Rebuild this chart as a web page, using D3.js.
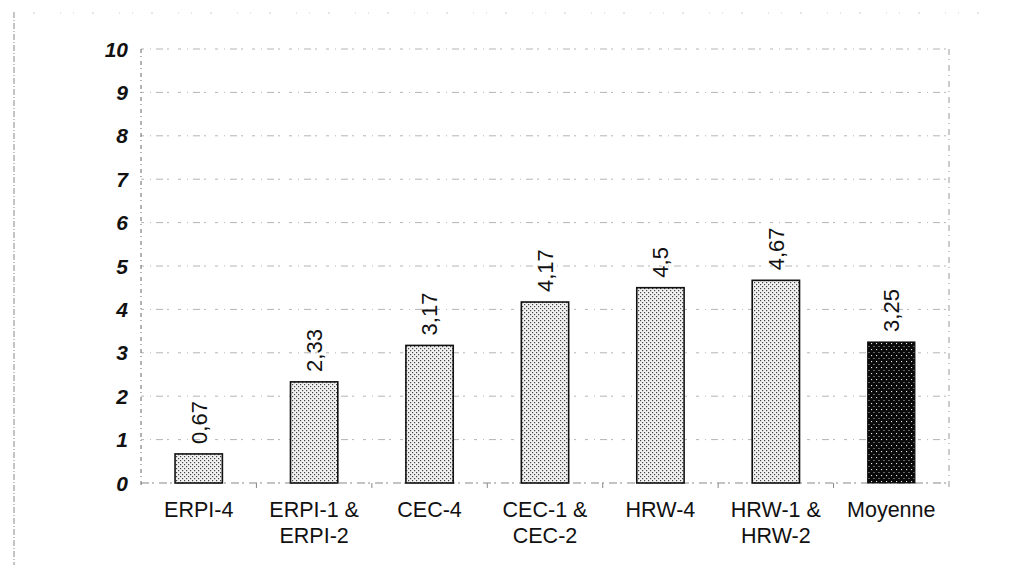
<!DOCTYPE html>
<html>
<head>
<meta charset="utf-8">
<script src="https://cdn.jsdelivr.net/npm/d3@7"></script>
<style>
  html, body { margin: 0; padding: 0; background: #fff; }
  svg { display: block; font-family: Arial, "Liberation Sans", sans-serif; }
</style>
</head>
<body>
<div id="chart"></div>
<script>
// values
const categories = ["ERPI-4", "ERPI-1 &\nERPI-2", "CEC-4", "CEC-1 &\nCEC-2", "HRW-4", "HRW-1 &\nHRW-2", "Moyenne"];
const values = [0.67, 2.33, 3.17, 4.17, 4.5, 4.67, 3.25];
const valueLabels = ["0,67", "2,33", "3,17", "4,17", "4,5", "4,67", "3,25"];
const yTicks = [0, 1, 2, 3, 4, 5, 6, 7, 8, 9, 10];

const width = 1016, height = 567;

const svg = d3.select("#chart").append("svg")
  .attr("width", width)
  .attr("height", height);

// dot patterns for the bars
const defs = svg.append("defs");
const light = defs.append("pattern")
  .attr("id", "dotsLight").attr("patternUnits", "userSpaceOnUse")
  .attr("width", 4).attr("height", 4);
light.append("rect").attr("width", 4).attr("height", 4).attr("fill", "#f2f2f2");
light.append("rect").attr("x", 0).attr("y", 0).attr("width", 1.2).attr("height", 1.2).attr("fill", "#444");
light.append("rect").attr("x", 2).attr("y", 2).attr("width", 1.2).attr("height", 1.2).attr("fill", "#444");

const dark = defs.append("pattern")
  .attr("id", "dotsDark").attr("patternUnits", "userSpaceOnUse")
  .attr("width", 5).attr("height", 6);
dark.append("rect").attr("width", 5).attr("height", 6).attr("fill", "#0a0a0a");
dark.append("rect").attr("x", 1).attr("y", 1).attr("width", 1.1).attr("height", 1.1).attr("fill", "#e8e8e8");
dark.append("rect").attr("x", 3.5).attr("y", 4).attr("width", 1).attr("height", 1).attr("fill", "#bbb");

// faint outer frame of the scanned page
svg.append("line").attr("x1", 14).attr("x2", 14).attr("y1", 12).attr("y2", 565)
  .attr("stroke", "#888").attr("stroke-width", 1).attr("stroke-dasharray", "6,2,1,2");
svg.append("line").attr("x1", 14).attr("x2", 1000).attr("y1", 13).attr("y2", 13)
  .attr("stroke", "#ccc").attr("stroke-width", 1).attr("stroke-dasharray", "1,18,2,25,1,12");

const x = d3.scaleBand()
  .domain(categories)
  .range([141, 949])
  .paddingInner(0.59)
  .paddingOuter(0.295);

const y = d3.scaleLinear()
  .domain([0, 10])
  .range([483, 49]);

// gridlines
svg.append("g")
  .selectAll("line")
  .data(yTicks)
  .join("line")
  .attr("x1", 141).attr("x2", 949)
  .attr("y1", d => y(d)).attr("y2", d => y(d))
  .attr("stroke", d => d === 0 ? "#888" : "#b4b4b4")
  .attr("stroke-width", 1)
  .attr("stroke-dasharray", d => d === 0 ? "8,3,2,5" : "3,6,1,5,7,4,2,9");

// vertical axis lines
svg.append("line").attr("x1", 141).attr("x2", 141).attr("y1", y(10)).attr("y2", y(0) + 4)
  .attr("stroke", "#666").attr("stroke-dasharray", "4,3,1,4");
svg.append("line").attr("x1", 949).attr("x2", 949).attr("y1", y(10)).attr("y2", y(0) + 4)
  .attr("stroke", "#999").attr("stroke-dasharray", "6,4,1,5");

// small ticks between categories
const step = x.step();
svg.append("g")
  .selectAll("line")
  .data(categories.slice(1))
  .join("line")
  .attr("x1", d => x(d) - (step - x.bandwidth()) / 2)
  .attr("x2", d => x(d) - (step - x.bandwidth()) / 2)
  .attr("y1", y(0)).attr("y2", y(0) + 5)
  .attr("stroke", "#888");

// y tick labels, bold italic
svg.append("g")
  .selectAll("text")
  .data(yTicks)
  .join("text")
  .attr("x", 128)
  .attr("y", d => y(d) + 7.5)
  .attr("text-anchor", "end")
  .attr("font-size", 21)
  .attr("font-weight", "bold")
  .attr("font-style", "italic")
  .attr("fill", "#111")
  .text(d => d);

// bars
svg.append("g")
  .selectAll("rect")
  .data(values)
  .join("rect")
  .attr("x", (d, i) => x(categories[i]))
  .attr("y", d => y(d))
  .attr("width", x.bandwidth())
  .attr("height", d => y(0) - y(d))
  .attr("fill", (d, i) => i === values.length - 1 ? "url(#dotsDark)" : "url(#dotsLight)")
  .attr("stroke", "#111")
  .attr("stroke-width", (d, i) => i === values.length - 1 ? 1 : 1.6);

// rotated value labels above bars
svg.append("g")
  .selectAll("text")
  .data(values)
  .join("text")
  .attr("transform", (d, i) => `translate(${x(categories[i]) + x.bandwidth() / 2},${y(d) - 10}) rotate(-90)`)
  .attr("text-anchor", "start")
  .attr("dy", "0.36em")
  .attr("font-size", 22)
  .attr("fill", "#111")
  .text((d, i) => valueLabels[i]);

// category labels, wrapped on \n
const xl = svg.append("g")
  .selectAll("text")
  .data(categories)
  .join("text")
  .attr("text-anchor", "middle")
  .attr("font-size", 21.5)
  .attr("fill", "#111");
xl.selectAll("tspan")
  .data(d => d.split("\n").map(s => ({ s, cx: 0 })))
  .join("tspan")
  .attr("y", (d, i) => 517 + i * 26)
  .text(d => d.s);
xl.each(function(d) {
  d3.select(this).selectAll("tspan").attr("x", x(d) + x.bandwidth() / 2);
});
</script>
</body>
</html>
